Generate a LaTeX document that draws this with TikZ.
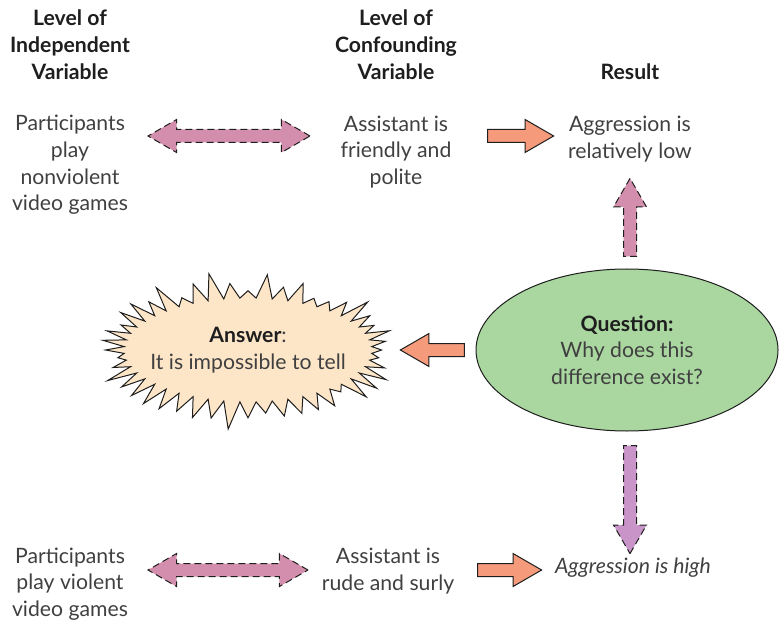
\documentclass[tikz,border=0pt]{standalone}
\usepackage{fontspec}
\setmainfont{Lato}
\usetikzlibrary{positioning,calc,shapes.geometric,shapes.arrows,shapes.symbols}
\definecolor{mypink}{RGB}{210,142,172}
\definecolor{myviolet}{RGB}{201,148,199}
\definecolor{myorange}{RGB}{246,154,124}
\definecolor{mygreen}{RGB}{170,214,160}
\definecolor{mysand}{RGB}{253,230,200}
\definecolor{mytext}{RGB}{64,64,64}
\definecolor{mydark}{RGB}{30,30,30}
\tikzset{
	txt/.style={
		align=center, text=mytext, inner sep=1pt,
		font=\fontsize{10.6}{13.3}\selectfont,
	},
	head/.style={
		txt, text=mydark, font=\fontsize{10.6}{13.5}\selectfont\bfseries,
	},
	twoway/.style={
		double arrow, draw=mydark, dash pattern=on 3.5pt off 2pt, line width=0.5pt, fill=mypink,
		minimum width=16pt, double arrow head extend=5pt,
		double arrow tip angle=60, inner xsep=0pt, inner ysep=3pt, minimum height=81pt,
	},
	upright/.style={
		single arrow, draw=mydark, dash pattern=on 3.5pt off 2pt, line width=0.5pt,
		minimum width=16pt, single arrow head extend=5pt,
		single arrow tip angle=60, inner xsep=3pt, inner ysep=0pt,
	},
	oneway/.style={
		single arrow, draw=mydark, line width=0.5pt, fill=myorange,
		minimum width=16pt, single arrow head extend=5pt,
		single arrow tip angle=60, inner xsep=0pt, inner ysep=3pt, minimum height=33pt,
	},
}
\begin{document}
\begin{tikzpicture}[x=0.5pt, y=-0.5pt]
	\useasboundingbox (0,0) rectangle (779,624);
	% column heads
	\node [head] (ivhead) at (70,45) {Level of\\Independent\\Variable};
	\node [head] (cvhead) at (396,45) {Level of\\Confounding\\Variable};
	\node [head] (reshead) at (630,72) {Result};
	% first row
	\node [txt] (ivlow) at (70,165) {Participants\\play\\nonviolent\\video games};
	\node [txt] (cvlow) at (396,152) {Assistant is\\friendly and\\polite};
	\node [txt] (reslow) at (630,139) {Aggression is\\relatively low};
	\node [twoway] (linklow) at (229,136) {};
	\node [oneway] (leadlow) at (515,136) {};
	% middle
	\node [ellipse, draw=mydark, line width=0.5pt, fill=mygreen, minimum width=151pt, minimum height=81pt, txt] (question) at (627,350) {\textbf{\color{mydark}Question:}\\Why does this\\difference exist?};
	\node [starburst, draw=mydark, line width=0.5pt, fill=mysand, starburst points=48, starburst point height=14pt, random starburst=23, minimum width=136pt, minimum height=80pt, txt, inner xsep=-5pt, inner ysep=2pt] (answer) at (248,350) {\textbf{\color{mydark}Answer}:\\It is impossible to tell};
	\node [oneway, shape border rotate=180, minimum height=32pt] (ask) at (438,350) {};
	\node [upright, fill=mypink, shape border rotate=90, minimum height=39pt] (up) at (630,223) {};
	\node [upright, fill=myviolet, shape border rotate=270, minimum height=54pt] (down) at (630,494) {};
	% second row
	\node [txt] (ivhigh) at (70,584) {Participants\\play violent\\video games};
	\node [txt] (cvhigh) at (388,571) {Assistant is\\rude and surly};
	\node [txt, font=\fontsize{10.6}{13.3}\selectfont\itshape] (reshigh) at (633,568) {Aggression is high};
	\node [twoway, minimum height=80pt] (linkhigh) at (228,570) {};
	\node [oneway, minimum height=32pt] (leadhigh) at (504,570) {};
\end{tikzpicture}
\end{document}
